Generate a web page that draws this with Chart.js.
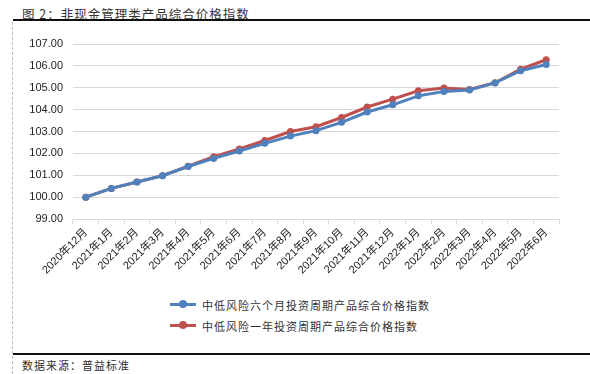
<!DOCTYPE html>
<html>
<head>
<meta charset="utf-8">
<script src="https://cdn.jsdelivr.net/npm/chart.js@4"></script>
<style>
  body { margin: 0; width: 590px; height: 374px; background: #fff; position: relative; overflow: hidden;
         font-family: "Noto Sans CJK SC", "Liberation Sans", sans-serif; }
  .title { position: absolute; left: 22px; top: 4px; font-size: 12.5px; color: #333; letter-spacing: 1px; }
  .rule { position: absolute; left: 13px; right: 0; height: 2px; background: #111; }
  .dash { position: absolute; left: 12px; top: 22px; bottom: 0; border-left: 1px dashed #bbb; }
  .source { position: absolute; left: 22px; top: 357px; font-size: 11px; color: #333; letter-spacing: 1px; }
  #wrap { position: absolute; left: 14px; top: 24px; width: 570px; height: 270px; }
  .legend { position: absolute; left: 170px; top: 294px; font-size: 11px; color: #333; letter-spacing: 1px; }
  .legend div { height: 21px; display: flex; align-items: center; }
  .sw { position: relative; width: 26px; height: 3px; margin-right: 6px; }
  .sw i { position: absolute; left: 9px; top: -3px; width: 8px; height: 8px; border-radius: 50%; }
</style>
</head>
<body>
<div class="title">图 2：非现金管理类产品综合价格指数</div>
<div class="rule" style="top:19px"></div>
<div class="dash"></div>
<div id="wrap"><canvas id="c"></canvas></div>
<div class="legend" id="legend"></div>
<div class="rule" style="top:353px"></div>
<div class="source">数据来源：普益标准</div>
<script>
const categories = ["2020年12月", "2021年1月", "2021年2月", "2021年3月", "2021年4月", "2021年5月",
  "2021年6月", "2021年7月", "2021年8月", "2021年9月", "2021年10月", "2021年11月", "2021年12月",
  "2022年1月", "2022年2月", "2022年3月", "2022年4月", "2022年5月", "2022年6月"];
const sixMonth = [100.00, 100.40, 100.69, 100.98, 101.40, 101.77, 102.11, 102.46, 102.79, 103.04,
  103.42, 103.89, 104.22, 104.63, 104.83, 104.90, 105.22, 105.78, 106.06];
const oneYear = [100.00, 100.40, 100.69, 100.98, 101.41, 101.85, 102.20, 102.59, 103.00, 103.22,
  103.64, 104.12, 104.48, 104.86, 104.99, 104.92, 105.23, 105.85, 106.28];
const seriesNames = ["中低风险六个月投资周期产品综合价格指数", "中低风险一年投资周期产品综合价格指数"];
const colors = ["#4f81bd", "#c0504d"];

const tickFont = { family: "'Liberation Sans', 'Noto Sans CJK SC', sans-serif", size: 11 };

new Chart(document.getElementById("c"), {
  type: "line",
  data: {
    labels: categories,
    datasets: [sixMonth, oneYear].map((d, i) => ({
      label: seriesNames[i],
      data: d,
      borderColor: colors[i],
      backgroundColor: colors[i],
      borderWidth: 3,
      pointRadius: 3.5,
      pointBorderWidth: 0,
      tension: 0
    }))
  },
  options: {
    responsive: true,
    maintainAspectRatio: false,
    animation: false,
    layout: { padding: { top: 20, right: 25, left: 0, bottom: 0 } },
    plugins: { legend: { display: false }, tooltip: { enabled: false } },
    scales: {
      x: {
        offset: true,
        grid: { display: true, drawOnChartArea: false, offset: true, tickLength: 5, color: "#d9d9d9" },
        border: { display: true, color: "#d9d9d9" },
        ticks: { color: "#222", font: tickFont, maxRotation: 45, minRotation: 45, autoSkip: false, padding: 2 },
        afterFit: s => { s.height = 75; }
      },
      y: {
        min: 99, max: 107,
        grid: { color: "#d9d9d9", drawTicks: false },
        border: { display: false },
        ticks: { stepSize: 1, color: "#222", font: tickFont, padding: 10, callback: v => v.toFixed(2) },
        afterFit: s => { s.width = 59; }
      }
    }
  }
});

const legend = document.getElementById("legend");
seriesNames.forEach((name, i) => {
  const row = document.createElement("div");
  row.innerHTML = '<span class="sw" style="background:' + colors[i] + '"><i style="background:' + colors[i] + '"></i></span>' + name;
  legend.appendChild(row);
});
</script>
</body>
</html>
